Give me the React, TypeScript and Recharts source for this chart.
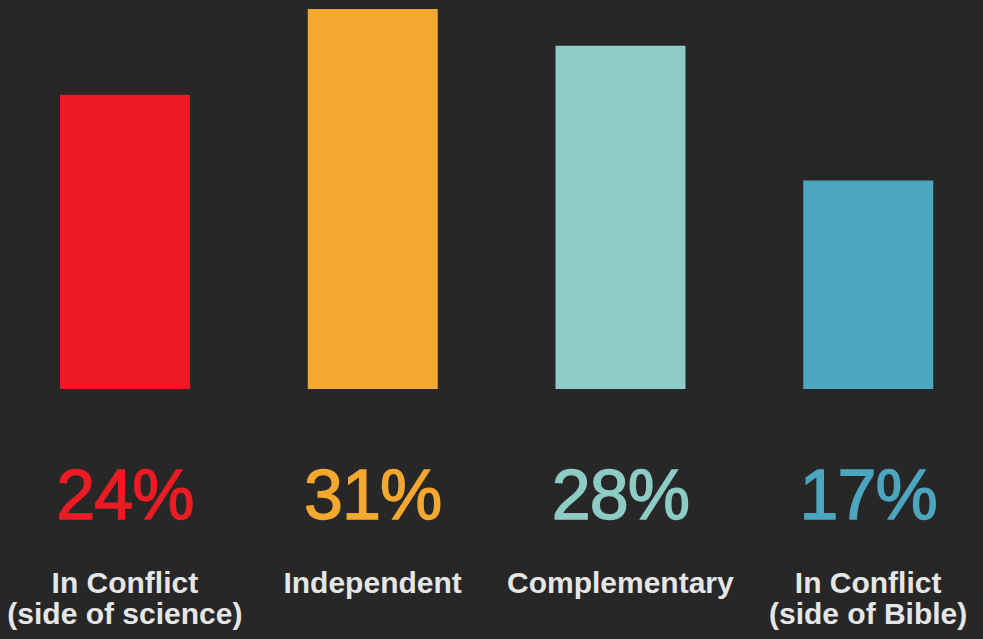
import { Bar, BarChart, Cell, XAxis, YAxis } from 'recharts';

const categories = ['In Conflict (side of science)', 'Independent', 'Complementary', 'In Conflict (side of Bible)'];
const categoryLines = [['In Conflict', '(side of science)'], ['Independent'], ['Complementary'], ['In Conflict', '(side of Bible)']];
const shares = [24, 31, 28, 17];
const colors = ['#ED1C24', '#F5A830', '#8ECBC4', '#4BA6BF'];

const data = categories.map((name, i) => ({ name, share: shares[i] }));

const FONT = '"Liberation Sans", Arial, Helvetica, sans-serif';

function CategoryTick({ x, y, index }: { x: number; y: number; index: number }) {
  const lines = categoryLines[index] ?? [];
  return (
    <g>
      <text
        x={x}
        y={y + 130}
        textAnchor="middle"
        fill={colors[index]}
        stroke={colors[index]}
        strokeWidth={1.4}
        fontFamily={FONT}
        fontSize={70}
        letterSpacing={-1}
      >
        {`${shares[index]}%`}
      </text>
      {lines.map((line, i) => (
        <text
          key={line}
          x={x}
          y={y + 204 + i * 31}
          textAnchor="middle"
          fill="#E6E6E6"
          fontFamily={FONT}
          fontSize={30}
          fontWeight="bold"
        >
          {line}
        </text>
      ))}
    </g>
  );
}

export default function App() {
  return (
    <div style={{ position: 'fixed', inset: 0, background: '#272727', overflow: 'hidden' }}>
      <BarChart width={992} height={639} data={data} margin={{ top: 9, right: 0, bottom: 0, left: 1 }}>
        <YAxis hide domain={[0, 'dataMax']} />
        <XAxis
          dataKey="name"
          axisLine={false}
          tickLine={false}
          tickSize={0}
          tickMargin={0}
          height={250}
          interval={0}
          tick={(props: any) => <CategoryTick x={props.x} y={props.y} index={props.index} />}
        />
        <Bar dataKey="share" barSize={130} isAnimationActive={false}>
          {data.map((d, i) => (
            <Cell key={d.name} fill={colors[i]} />
          ))}
        </Bar>
      </BarChart>
    </div>
  );
}
